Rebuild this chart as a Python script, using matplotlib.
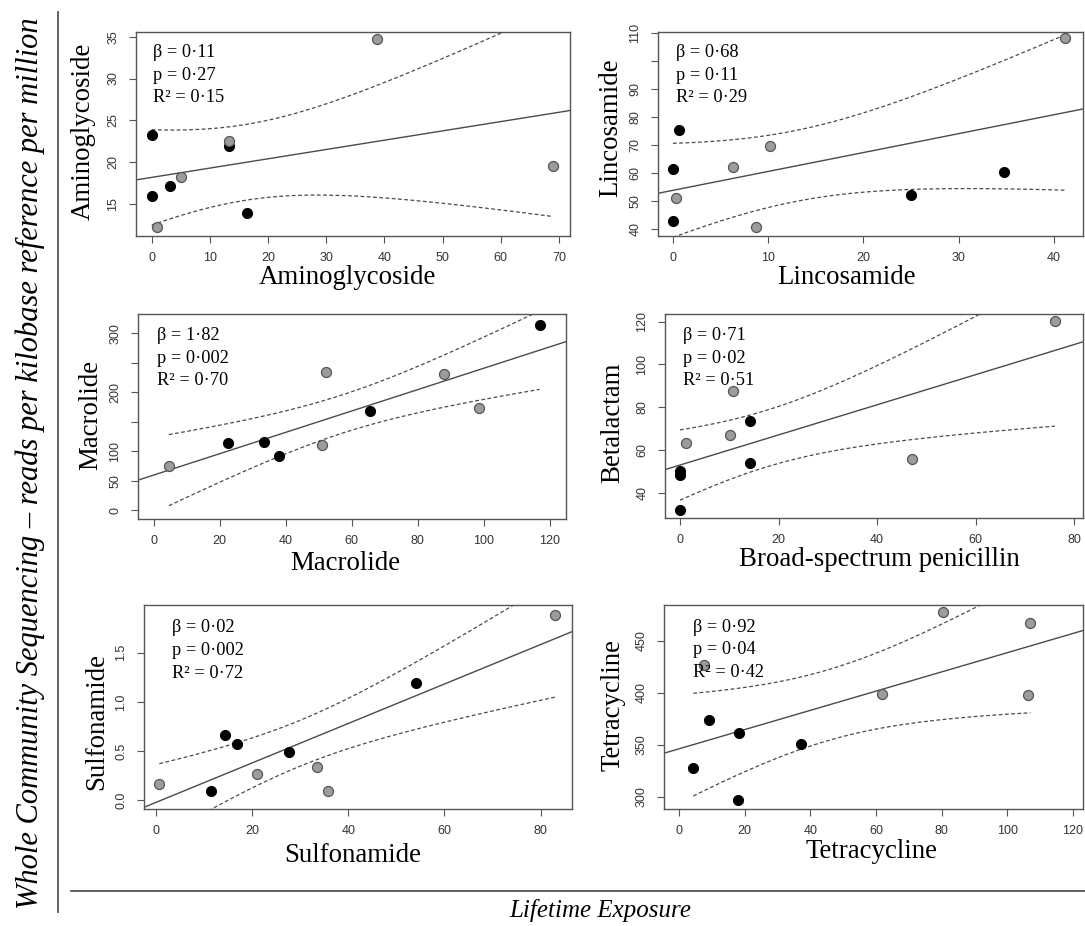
import numpy as np
import matplotlib
matplotlib.use("Agg")
import matplotlib.pyplot as plt
from matplotlib.lines import Line2D

W, H = 1085, 926
T_CRIT = 2.306  # t(0.975, df=8), n = 10 per panel

SERIF = "Liberation Serif"
SANS = "Liberation Sans"

# ---- data (black = one group, gray = other group) ----
amino_black_x = [0, 0, 3.15, 13.2, 16.3]
amino_black_y = [23.3, 16.0, 17.2, 21.9, 14.0]
amino_gray_x = [0.86, 5.04, 13.2, 38.8, 69.0]
amino_gray_y = [12.25, 18.2, 22.5, 34.76, 19.6]

linco_black_x = [0, 0.6, 0, 25.0, 34.8]
linco_black_y = [61.5, 75.2, 43.0, 52.2, 60.3]
linco_gray_x = [0.35, 6.3, 10.15, 8.68, 41.2]
linco_gray_y = [51.2, 62.1, 69.7, 40.6, 108.1]

macro_black_x = [22.4, 33.3, 37.9, 65.5, 117.0]
macro_black_y = [114.7, 116.4, 91.5, 168.4, 314.1]
macro_gray_x = [4.55, 50.9, 52.2, 87.9, 98.5]
macro_gray_y = [75.1, 110.2, 233.9, 231.1, 174.0]

beta_black_x = [0, 0, 0, 14.3, 14.3]
beta_black_y = [32.1, 48.4, 50.0, 73.5, 54.1]
beta_gray_x = [1.2, 10.2, 10.7, 47.1, 76.1]
beta_gray_y = [63.5, 67.2, 87.4, 55.6, 120.3]

sulfa_black_x = [11.4, 14.5, 16.8, 27.6, 54.1]
sulfa_black_y = [0.095, 0.667, 0.576, 0.491, 1.192]
sulfa_gray_x = [0.76, 21.0, 33.5, 35.7, 83.0]
sulfa_gray_y = [0.163, 0.271, 0.335, 0.095, 1.883]

tetra_black_x = [4.37, 9.15, 18.3, 18.1, 37.3]
tetra_black_y = [327.5, 373.5, 361.7, 296.8, 351.2]
tetra_gray_x = [7.6, 61.9, 80.4, 106.3, 107.1]
tetra_gray_y = [426.7, 398.5, 477.5, 398.2, 466.6]

# ---- labels / stats / ticks ----
ylabels = ["Aminoglycoside", "Lincosamide", "Macrolide", "Betalactam", "Sulfonamide", "Tetracycline"]
xlabels = ["Aminoglycoside", "Lincosamide", "Macrolide", "Broad-spectrum penicillin", "Sulfonamide", "Tetracycline"]
stats = [
    ["β = 0·11", "p = 0·27", "R² = 0·15"],
    ["β = 0·68", "p = 0·11", "R² = 0·29"],
    ["β = 1·82", "p = 0·002", "R² = 0·70"],
    ["β = 0·71", "p = 0·02", "R² = 0·51"],
    ["β = 0·02", "p = 0·002", "R² = 0·72"],
    ["β = 0·92", "p = 0·04", "R² = 0·42"],
]
xticks = [
    [0, 10, 20, 30, 40, 50, 60, 70],
    [0, 10, 20, 30, 40],
    [0, 20, 40, 60, 80, 100, 120],
    [0, 20, 40, 60, 80],
    [0, 20, 40, 60, 80],
    [0, 20, 40, 60, 80, 100, 120],
]
yticks = [
    [15, 20, 25, 30, 35],
    [40, 50, 60, 70, 80, 90, 100, 110],
    [0, 50, 100, 150, 200, 250, 300],
    [40, 60, 80, 100, 120],
    [0.0, 0.5, 1.0, 1.5],
    [300, 350, 400, 450],
]
yticklabels = [
    ["15", "20", "25", "30", "35"],
    ["40", "50", "60", "70", "80", "90", "", "110"],
    ["0", "50", "100", "", "200", "", "300"],
    ["40", "60", "80", "100", "120"],
    ["0.0", "0.5", "1.0", "1.5"],
    ["300", "350", "400", "450"],
]
xlims = [(-2.7, 71.9), (-1.57, 43.04), (-4.8, 125.0), (-3.04, 81.8), (-2.43, 86.5), (-4.57, 123.1)]
ylims = [(11.2, 35.56), (37.5, 110.36), (-14.7, 332.7), (28.2, 123.6), (-0.088, 1.985), (288.5, 484.3)]

black_x = [amino_black_x, linco_black_x, macro_black_x, beta_black_x, sulfa_black_x, tetra_black_x]
black_y = [amino_black_y, linco_black_y, macro_black_y, beta_black_y, sulfa_black_y, tetra_black_y]
gray_x = [amino_gray_x, linco_gray_x, macro_gray_x, beta_gray_x, sulfa_gray_x, tetra_gray_x]
gray_y = [amino_gray_y, linco_gray_y, macro_gray_y, beta_gray_y, sulfa_gray_y, tetra_gray_y]

# ---- layout in pixels: (left, right, top, bottom) ----
boxes = [(136, 570, 32, 236), (658, 1083, 32, 236),
         (138, 566, 314, 519), (665, 1083, 314, 518),
         (144, 572, 605, 809), (664, 1083, 605, 809)]
stat_pos = [(17, 20.7, 22.5), (18, 20.7, 22.5), (19, 21.7, 22.6),
            (18, 21.7, 22.6), (28, 22.3, 23), (29, 22.3, 22.5)]
xlab_pos = [(347, 277), (847, 278), (345, 563), (879, 560), (353, 855), (872, 852)]
ylab_pos = [(83, 131), (611, 128), (91, 415), (613, 423), (97, 722), (613, 705)]

fig = plt.figure(figsize=(W / 100, H / 100), dpi=100)

for i in range(6):
    l, r, t, b = boxes[i]
    ax = fig.add_axes([l / W, 1 - b / H, (r - l) / W, (b - t) / H])
    x = np.array(black_x[i] + gray_x[i])
    y = np.array(black_y[i] + gray_y[i])
    n = len(x)
    xm = x.mean()
    sxx = ((x - xm) ** 2).sum()
    slope = ((x - xm) * (y - y.mean())).sum() / sxx
    icpt = y.mean() - slope * xm
    resid = y - (icpt + slope * x)
    s = np.sqrt((resid ** 2).sum() / (n - 2))
    xs = np.linspace(x.min(), x.max(), 120)
    fit = icpt + slope * xs
    half = T_CRIT * s * np.sqrt(1 / n + (xs - xm) ** 2 / sxx)

    ax.axline((0, icpt), slope=slope, color="#4a4a4a", lw=1.0)
    ax.plot(xs, fit + half, color="#4a4a4a", lw=0.9, ls=(0, (3, 2)))
    ax.plot(xs, fit - half, color="#4a4a4a", lw=0.9, ls=(0, (3, 2)))
    ax.plot(black_x[i], black_y[i], "o", ms=7.2, mfc="black", mec="black", mew=0.8)
    ax.plot(gray_x[i], gray_y[i], "o", ms=7.2, mfc="#9c9c9c", mec="#555555", mew=0.9)

    ax.set_xlim(xlims[i])
    ax.set_ylim(ylims[i])
    ax.set_xticks(xticks[i])
    ax.set_yticks(yticks[i])
    ax.set_yticklabels(yticklabels[i])
    ax.tick_params(direction="out", length=5, width=0.8, color="#555555",
                   labelsize=9, labelcolor="#333333", pad=6.5)
    ax.tick_params(axis="y", labelrotation=90, pad=7)
    for lab in ax.get_xticklabels() + ax.get_yticklabels():
        lab.set_fontfamily(SANS)
    for lab in ax.get_yticklabels():
        lab.set_va("center")
    for sp in ax.spines.values():
        sp.set_color("#555555")
        sp.set_linewidth(1.0)

    dx, y0, dy = stat_pos[i]
    for k, txt in enumerate(stats[i]):
        ax.annotate(txt, xy=(0, 1), xycoords="axes fraction",
                    xytext=(dx, -(y0 + k * dy)), textcoords="offset pixels",
                    ha="left", va="center", fontsize=13.2, family=SERIF)

    fx, fy = xlab_pos[i]
    fig.text(fx / W, 1 - fy / H, xlabels[i], ha="center", va="center",
             fontsize=19.4, family=SERIF)
    gx, gy = ylab_pos[i]
    fig.text(gx / W, 1 - gy / H, ylabels[i], ha="center", va="center",
             rotation=90, fontsize=19.4, family=SERIF)

# outer frame lines and shared labels
fig.add_artist(Line2D([58.3 / W, 58.3 / W], [1 - 11.7 / H, 1 - 911.7 / H],
                      transform=fig.transFigure, color="#555555", lw=1.3))
fig.add_artist(Line2D([70.7 / W, 1.0], [1 - 891 / H, 1 - 891 / H],
                      transform=fig.transFigure, color="#555555", lw=1.3))
fig.text(30 / W, 1 - 463 / H,
         "Whole Community Sequencing – reads per kilobase reference per million",
         rotation=90, ha="center", va="center", fontsize=22, style="italic", family=SERIF)
fig.text(600 / W, 1 - 910 / H, "Lifetime Exposure", ha="center", va="center",
         fontsize=18, style="italic", family=SERIF)

fig.savefig("out.png", dpi=100)
